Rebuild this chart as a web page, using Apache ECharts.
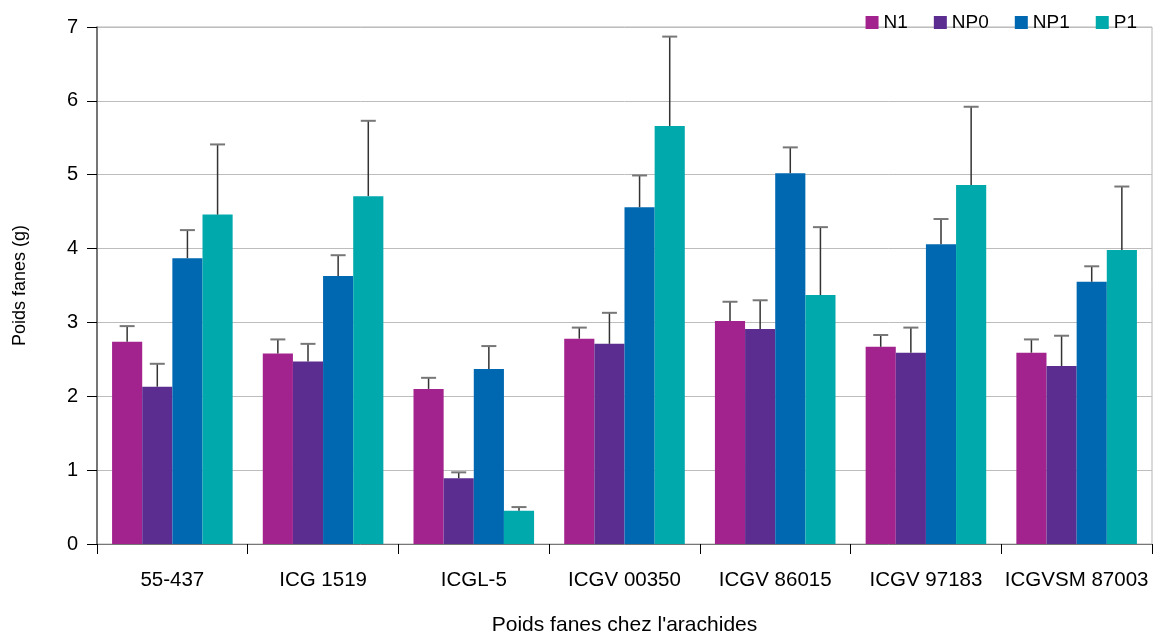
<!DOCTYPE html>
<html><head><meta charset="utf-8">
<script src="https://cdn.jsdelivr.net/npm/echarts@6/dist/echarts.min.js"></script>
<style>html,body{margin:0;padding:0;background:#fff}#c{width:1159px;height:641px}</style>
</head><body><div id="c"></div>
<script>
const categories = ['55-437','ICG 1519','ICGL-5','ICGV 00350','ICGV 86015','ICGV 97183','ICGVSM 87003'];
const seriesNames = ['N1','NP0','NP1','P1'];
const N1 = [2.74,2.58,2.10,2.78,3.02,2.67,2.59];
const NP0 = [2.13,2.47,0.89,2.71,2.91,2.59,2.41];
const NP1 = [3.87,3.63,2.37,4.56,5.02,4.06,3.55];
const P1 = [4.46,4.71,0.45,5.66,3.37,4.86,3.98];
const N1_err = [2.95,2.77,2.25,2.93,3.28,2.83,2.77];
const NP0_err = [2.44,2.71,0.97,3.13,3.30,2.93,2.82];
const NP1_err = [4.25,3.91,2.68,4.99,5.37,4.40,3.76];
const P1_err = [5.41,5.73,0.50,6.87,4.29,5.92,4.84];
const yTicks = [0,1,2,3,4,5,6,7];
const colors = ['#a3238e','#5c2d91','#0067b1','#00a9ac'];
const values = [N1,NP0,NP1,P1];
const errs = [N1_err,NP0_err,NP1_err,P1_err];
const font = 'Liberation Sans, Arial, sans-serif';

const chart = echarts.init(document.getElementById('c'));
const series = [];
values.forEach((v,i)=>{
  series.push({name:seriesNames[i],type:'bar',data:v,barGap:'0%',barCategoryGap:'20%',
    itemStyle:{color:colors[i]},z:2});
});
errs.forEach((e,i)=>{
  series.push({type:'custom',name:seriesNames[i]+'_err',
    data:e.map((t,j)=>[j,values[i][j],t]),
    z:5,silent:true,
    renderItem:function(params,api){
      const c = api.value(0);
      const lo = api.coord([c,api.value(1)]);
      const hi = api.coord([c,api.value(2)]);
      const w = api.size([1,0])[0];
      const bw = w*0.8/4;
      const x = lo[0] + (i-1.5)*bw;
      return {type:'group',children:[
        {type:'line',shape:{x1:x,y1:lo[1],x2:x,y2:hi[1]},style:{stroke:'#333',lineWidth:1.5}},
        {type:'line',shape:{x1:x-7.5,y1:hi[1],x2:x+7.5,y2:hi[1]},style:{stroke:'#777',lineWidth:2}}
      ]};
    },
    encode:{x:0,y:[1,2]}
  });
});
chart.setOption({
  animation:false,
  textStyle:{fontFamily:font},
  grid:{left:97,right:7,top:27,bottom:95,show:true,borderColor:'#b5b5b5',borderWidth:1},
  legend:{data:seriesNames,right:17,top:8,itemWidth:13,itemHeight:13,itemGap:26,
    icon:'rect',textStyle:{fontSize:19,color:'#000',fontFamily:font}},
  xAxis:{type:'category',data:categories,
    name:"Poids fanes chez l'arachides",nameLocation:'middle',nameGap:71,
    nameTextStyle:{fontSize:21,color:'#000',fontFamily:font},
    axisLine:{lineStyle:{color:'#777',width:1}},
    axisTick:{show:true,length:10,lineStyle:{color:'#000'}},
    axisLabel:{interval:0,fontSize:20.5,color:'#000',margin:26,fontFamily:font}},
  yAxis:{type:'value',min:0,max:7,interval:1,
    name:'Poids fanes (g)',nameLocation:'middle',nameGap:68,
    nameTextStyle:{fontSize:18,color:'#000',fontFamily:font},
    axisLine:{show:true,lineStyle:{color:'#555',width:1.5}},
    axisTick:{show:true,length:10,lineStyle:{color:'#000'}},
    axisLabel:{fontSize:20,color:'#000',margin:19,fontFamily:font,
      formatter:v=>yTicks.includes(v)?String(v):''},
    splitLine:{lineStyle:{color:'#bdbdbd',width:1}}},
  series:series
});
</script></body></html>
